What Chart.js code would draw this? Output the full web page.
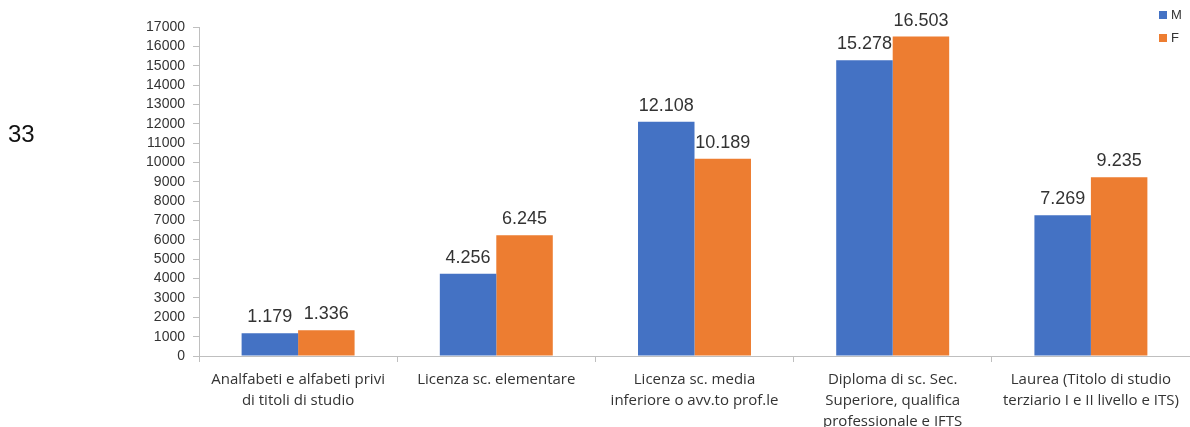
<!DOCTYPE html>
<html>
<head>
<meta charset="utf-8">
<script src="https://cdn.jsdelivr.net/npm/chart.js@4.4.1/dist/chart.umd.min.js"></script>
<style>
  html, body { margin: 0; padding: 0; background: #fff; overflow: hidden; }
  #wrap { position: relative; width: 1190px; height: 427px; }
  #page { position: absolute; left: 8px; top: 120px; font: 24px "Liberation Sans", Arial, sans-serif; color: #111; }
  .legend { position: absolute; left: 1159px; font: 13px "Liberation Sans", Arial, sans-serif; color: #333; }
  .legend span { display: inline-block; width: 8px; height: 8px; margin-right: 4px; }
</style>
</head>
<body>
<div id="wrap">
  <canvas id="chart" width="1190" height="427"></canvas>
  <div id="page">33</div>
  <div class="legend" style="top:7px"><span style="background:#4472C4"></span>M</div>
  <div class="legend" style="top:30px"><span style="background:#ED7D31"></span>F</div>
</div>
<script>
// Data
const categories = [
  ['Analfabeti e alfabeti privi', 'di titoli di studio'],
  ['Licenza sc. elementare'],
  ['Licenza sc. media', 'inferiore o avv.to prof.le'],
  ['Diploma di sc. Sec.', 'Superiore, qualifica', 'professionale e IFTS'],
  ['Laurea (Titolo di studio', 'terziario I e II livello e ITS)']
];
const maleValues = [1179, 4256, 12108, 15278, 7269];
const femaleValues = [1336, 6245, 10189, 16503, 9235];
const yMax = 17000;
const yStep = 1000;

const blue = "#4472C4";
const orange = "#ED7D31";
const textColour = "#333333";
const lineColour = "#bfbfbf";

function itNumber(v) {
    return v.toString().replace(/\B(?=(\d{3})+(?!\d))/g, ".");
}

// values above the bars
const valueLabels = {
    id: 'valueLabels',
    afterDatasetsDraw(chart) {
        const ctx = chart.ctx;
        ctx.save();
        ctx.font = '18px "Liberation Sans", Arial, sans-serif';
        ctx.fillStyle = textColour;
        ctx.textAlign = 'center';
        ctx.textBaseline = 'bottom';
        chart.data.datasets.forEach((ds, i) => {
            chart.getDatasetMeta(i).data.forEach((bar, j) => {
                ctx.fillText(itNumber(ds.data[j]), bar.x, bar.y - 7);
            });
        });
        ctx.restore();
    }
};

new Chart(document.getElementById('chart'), {
    type: 'bar',
    data: {
        labels: categories,
        datasets: [
            { label: 'M', data: maleValues, backgroundColor: blue, categoryPercentage: 0.57, barPercentage: 1 },
            { label: 'F', data: femaleValues, backgroundColor: orange, categoryPercentage: 0.57, barPercentage: 1 }
        ]
    },
    options: {
        responsive: false,
        animation: false,
        layout: { padding: { top: 27, right: 0, left: 0, bottom: 0 } },
        plugins: {
            legend: { display: false },
            tooltip: { enabled: false }
        },
        scales: {
            x: {
                border: { color: lineColour },
                grid: { display: true, drawOnChartArea: false, drawTicks: true, tickLength: 6, color: lineColour, offset: true },
                ticks: {
                    color: textColour,
                    maxRotation: 0,
                    autoSkip: false,
                    padding: 7,
                    font: { family: '"Open Sans", sans-serif', size: 15, lineHeight: 1.4 }
                },
                afterFit(scale) { scale.height = 71; }
            },
            y: {
                min: 0,
                max: yMax,
                border: { color: lineColour },
                grid: { display: true, drawOnChartArea: false, drawTicks: true, tickLength: 6, color: lineColour },
                ticks: {
                    stepSize: yStep,
                    autoSkip: false,
                    color: textColour,
                    padding: 8,
                    font: { family: '"Liberation Sans", Arial, sans-serif', size: 14 },
                    callback: v => v
                },
                afterFit(scale) { scale.width = 199; }
            }
        }
    },
    plugins: [valueLabels]
});
</script>
</body>
</html>
